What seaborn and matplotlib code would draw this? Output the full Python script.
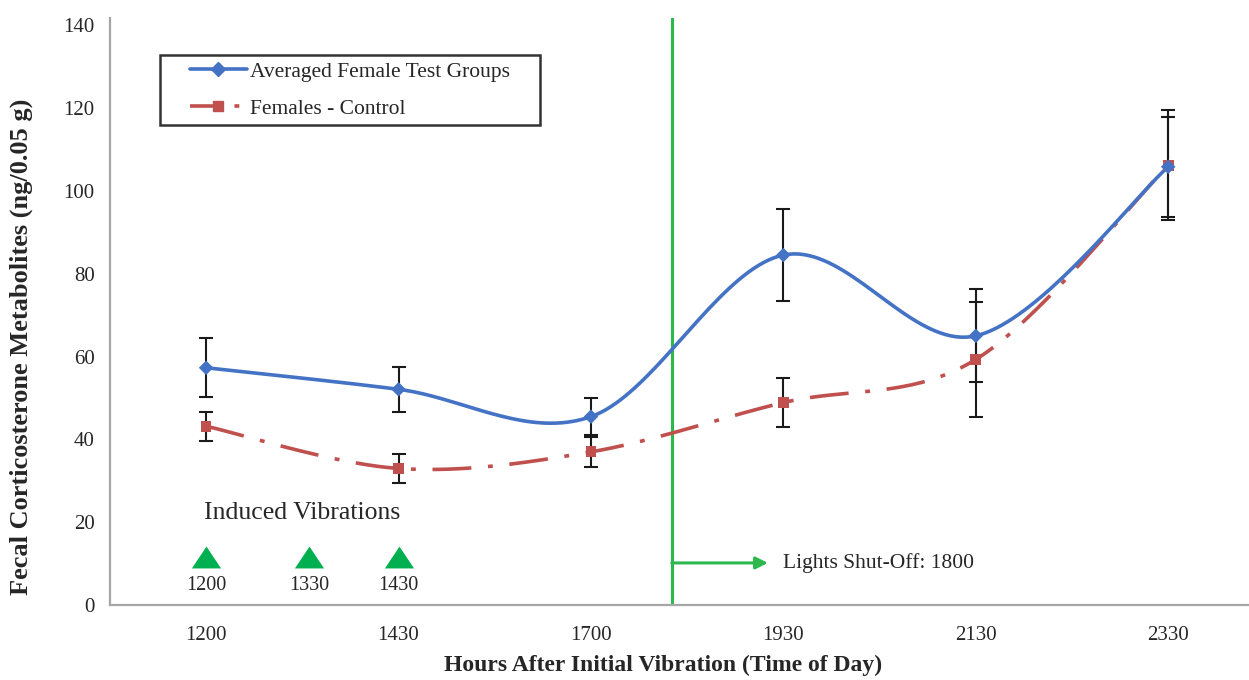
import numpy as np
import pandas as pd
import seaborn as sns
import matplotlib.pyplot as plt
from matplotlib.lines import Line2D
from matplotlib.patches import Rectangle

# data
times = ["1200", "1430", "1700", "1930", "2130", "2330"]
test_mean = [57.3, 52.1, 45.5, 84.5, 65.0, 105.8]
test_err = [7.1, 5.4, 4.5, 11.0, 11.2, 12.0]
ctrl_mean = [43.2, 33.0, 37.0, 48.9, 59.3, 106.2]
ctrl_err = [3.5, 3.4, 3.6, 6.0, 13.9, 13.2]
vib_labels = ["1200", "1330", "1430"]

blue = "#4472C4"
red = "#C0504D"
green = "#00B050"
lgreen = "#2DB84D"

sns.set_style("white")
plt.rcParams["font.family"] = ["Liberation Serif", "DejaVu Serif"]
plt.rcParams["lines.scale_dashes"] = False


def smooth(y, n=40):
    # Excel-style smoothed line (cardinal bezier through the points)
    pts = np.column_stack([np.arange(len(y), dtype=float), np.asarray(y, float)])
    ext = np.vstack([pts[0], pts, pts[-1]])
    t = np.linspace(0, 1, n)[:, None]
    out = []
    for i in range(len(pts) - 1):
        p0, p3 = pts[i], pts[i + 1]
        c1 = p0 + (ext[i + 2] - ext[i]) / 6
        c2 = p3 - (ext[i + 3] - ext[i + 1]) / 6
        seg = (1 - t) ** 3 * p0 + 3 * (1 - t) ** 2 * t * c1 + 3 * (1 - t) * t ** 2 * c2 + t ** 3 * p3
        out.append(seg if i == 0 else seg[1:])
    return np.vstack(out)


pos = np.arange(len(times))
dash_dot = (0, (28, 12, 3.5, 12))

fig = plt.figure(figsize=(12.49, 6.8), dpi=100)
ax = fig.add_axes([0.088, 0.110, 0.912, 0.8635])

tc = smooth(test_mean)
cc = smooth(ctrl_mean)
sns.lineplot(x=cc[:, 0], y=cc[:, 1], sort=False, estimator=None, color=red, lw=2.6,
             linestyle=dash_dot, ax=ax, zorder=2)
sns.lineplot(x=tc[:, 0], y=tc[:, 1], sort=False, estimator=None, color=blue, lw=2.6,
             ax=ax, zorder=3)

ax.errorbar(pos, ctrl_mean, yerr=ctrl_err, fmt="none", ecolor="#1a1a1a", elinewidth=1.5,
            capsize=5, capthick=1.5, zorder=4)
ax.errorbar(pos, test_mean, yerr=test_err, fmt="none", ecolor="#1a1a1a", elinewidth=1.5,
            capsize=5, capthick=1.5, zorder=4)

sns.scatterplot(x=pos, y=ctrl_mean, marker="s", s=60, color=red, edgecolor="none", ax=ax, zorder=5)
sns.scatterplot(x=pos, y=test_mean, marker="D", s=55, color=blue, edgecolor="none", ax=ax, zorder=5)

# induced vibrations markers
vib_x = [0, 0.535, 1]
tri = [(-1, -0.75), (1, -0.75), (0, 0.75)]
ax.plot(vib_x, [11.6] * 3, linestyle="none", marker=tri, ms=21, color=green, mec="none")
for x, lab in zip(vib_x, vib_labels):
    ax.text(x, 4.8, lab, ha="center", va="center", fontsize=14.5)
ax.text(0.5, 22.2, "Induced Vibrations", ha="center", va="center", fontsize=18.5)

# lights off
ax.axvline(2.42, ymin=0, ymax=1, color=lgreen, lw=2.2, zorder=1)
ax.annotate("", xy=(2.92, 10.2), xytext=(2.42, 10.2),
            arrowprops=dict(arrowstyle="-|>", color=lgreen, lw=2.2, mutation_scale=18,
                            shrinkA=0, shrinkB=0))
ax.text(3.0, 10.2, "Lights Shut-Off: 1800", ha="left", va="center", fontsize=15.5)

ax.set_xlim(-0.5, 5.42)
ax.set_ylim(0, 141.7)
ax.set_xticks(pos)
ax.set_xticklabels(times)
ax.set_yticks(np.arange(0, 141, 20))
ax.tick_params(axis="both", length=0, labelsize=15)
ax.tick_params(axis="x", pad=15)
ax.tick_params(axis="y", pad=11)
for side in ["top", "right"]:
    ax.spines[side].set_visible(False)
for side in ["left", "bottom"]:
    ax.spines[side].set_color("#a6a6a6")
    ax.spines[side].set_linewidth(1.6)

ax.set_xlabel("Hours After Initial Vibration (Time of Day)", fontsize=17, fontweight="bold")
ax.set_ylabel("Fecal Corticosterone Metabolites (ng/0.05 g)", fontsize=19, fontweight="bold")
ax.xaxis.set_label_coords(0.486, -0.085)
ax.yaxis.set_label_coords(-0.0676, 0.44)

# legend with a hand-sized frame
ax.add_patch(Rectangle((0.0439, 0.8177), 0.3336, 0.1193, transform=ax.transAxes,
                       fill=False, edgecolor="#333333", lw=1.8, zorder=6))
handles = [
    Line2D([], [], color=blue, lw=2.6, marker="D", ms=7.5),
    Line2D([], [], color=red, lw=2.6, marker="s", ms=7.5, linestyle=(0, (22, 10, 3.5, 10))),
]
ax.legend(handles, ["Averaged Female Test Groups", "Females - Control"],
          loc="center", bbox_to_anchor=(0.2107, 0.877), fontsize=15.5,
          frameon=False, handlelength=2.65, labelspacing=0.78, handletextpad=0.15,
          borderpad=0, borderaxespad=0)

fig.savefig("out.png", dpi=100)
